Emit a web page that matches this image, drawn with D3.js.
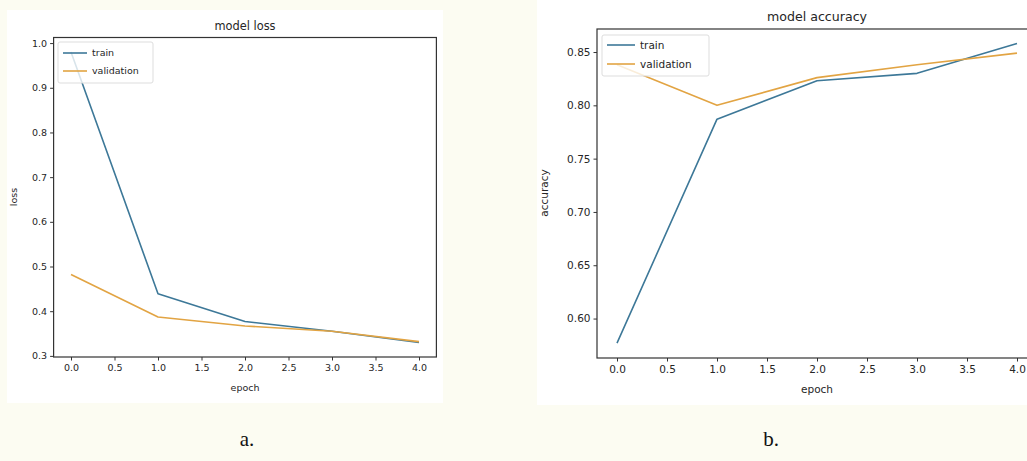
<!DOCTYPE html>
<html><head><meta charset="utf-8">
<script src="https://cdn.jsdelivr.net/npm/d3@7"></script>
<style>
html,body{margin:0;padding:0;background:#fcfcf2;}
svg{display:block;}
text{font-family:"DejaVu Sans",sans-serif;fill:#262626;}
</style></head>
<body>
<svg id="c" width="1027" height="461"></svg>
<script>
const epochs = [0, 1, 2, 3, 4];
const lossTrain = [0.980, 0.439, 0.377, 0.355, 0.330];
const lossVal = [0.482, 0.387, 0.367, 0.355, 0.332];
const accTrain = [0.577, 0.787, 0.823, 0.830, 0.858];
const accVal = [0.838, 0.800, 0.826, 0.838, 0.849];
const xTicks = [0, 0.5, 1, 1.5, 2, 2.5, 3, 3.5, 4];
const lossTicks = [0.3, 0.4, 0.5, 0.6, 0.7, 0.8, 0.9, 1.0];
const accTicks = [0.60, 0.65, 0.70, 0.75, 0.80, 0.85];
const seriesNames = ["train", "validation"];
const colors = ["#3d7898", "#e2a443"];

const svg = d3.select("#c");

function panel(cfg) {
  const g = svg.append("g");
  g.append("rect").attr("x", cfg.panel[0]).attr("y", cfg.panel[1])
    .attr("width", cfg.panel[2]).attr("height", cfg.panel[3]).attr("fill", "#ffffff");
  const x = d3.scaleLinear().domain([-0.2, 4.2]).range([cfg.left, cfg.right]);
  const y = d3.scaleLinear().domain(cfg.ydom).range([cfg.bottom, cfg.top]);
  const fs = cfg.fs;
  const line = d3.line().x((d, i) => x(epochs[i])).y(d => y(d));
  [cfg.train, cfg.val].forEach((s, k) => {
    g.append("path").datum(s).attr("d", line).attr("fill", "none")
      .attr("stroke", colors[k]).attr("stroke-width", 1.6).attr("stroke-linejoin", "round");
  });
  const xa = g.append("g").attr("transform", `translate(0,${cfg.bottom})`)
    .call(d3.axisBottom(x).tickValues(xTicks).tickFormat(d3.format(".1f")).tickSize(3.5).tickPadding(4));
  const ya = g.append("g").attr("transform", `translate(${cfg.left},0)`)
    .call(d3.axisLeft(y).tickValues(cfg.yticks).tickFormat(d3.format(cfg.yfmt)).tickSize(3.5).tickPadding(3));
  [xa, ya].forEach(a => {
    a.select(".domain").remove();
    a.selectAll("line").attr("stroke", "#333");
    a.selectAll("text").attr("font-size", fs).attr("fill", "#2a2a2a").style("font-family", "DejaVu Sans");
  });
  g.append("rect").attr("x", cfg.left).attr("y", cfg.top)
    .attr("width", cfg.right - cfg.left).attr("height", cfg.bottom - cfg.top)
    .attr("fill", "none").attr("stroke", "#333").attr("stroke-width", 1.2);
  g.append("text").attr("x", (cfg.left + cfg.right) / 2).attr("y", cfg.top - 8)
    .attr("text-anchor", "middle").attr("font-size", fs * 1.2).text(cfg.title);
  g.append("text").attr("x", cfg.xlabel[0]).attr("y", cfg.xlabel[1])
    .attr("text-anchor", "middle").attr("font-size", fs).text("epoch");
  g.append("text").attr("transform", `translate(${cfg.ylabel[0]},${cfg.ylabel[1]}) rotate(-90)`)
    .attr("text-anchor", "middle").attr("font-size", fs).text(cfg.ylab);
  const L = cfg.legend;
  g.append("rect").attr("x", L.x).attr("y", L.y).attr("width", L.w).attr("height", L.h)
    .attr("rx", 2).attr("fill", "#fff").attr("fill-opacity", 0.8).attr("stroke", "#ddd");
  seriesNames.forEach((n, k) => {
    const yy = L.y + L.row0 + k * L.dy;
    g.append("line").attr("x1", L.x + 5).attr("x2", L.x + 5 + L.len).attr("y1", yy).attr("y2", yy)
      .attr("stroke", colors[k]).attr("stroke-width", 1.6);
    g.append("text").attr("x", L.x + 10 + L.len).attr("y", yy).attr("dy", "0.35em")
      .attr("font-size", fs).text(n);
  });
}

panel({
  panel: [7, 10, 436, 393],
  left: 53.6, right: 436.4, top: 37.5, bottom: 357,
  ydom: [0.2975, 1.0125], yticks: lossTicks, yfmt: ".1f",
  train: lossTrain, val: lossVal, fs: 9.5,
  title: "model loss", ylab: "loss", xlabel: [245, 391], ylabel: [17, 197],
  legend: {x: 58, y: 42, w: 95, h: 41, row0: 11, dy: 18, len: 24}
});
panel({
  panel: [537, 0, 490, 405],
  left: 597, right: 1037, top: 29, bottom: 358,
  ydom: [0.5630, 0.8716], yticks: accTicks, yfmt: ".2f",
  train: accTrain, val: accVal, fs: 10.5,
  title: "model accuracy", ylab: "accuracy", xlabel: [817, 393], ylabel: [548, 193],
  legend: {x: 602, y: 35, w: 107, h: 41, row0: 10, dy: 19, len: 28}
});

svg.append("text").attr("x", 247).attr("y", 446).attr("text-anchor", "middle")
  .style("font-family", "Liberation Serif, serif").attr("font-size", 21).style("fill", "#111").text("a.");
svg.append("text").attr("x", 771).attr("y", 446).attr("text-anchor", "middle")
  .style("font-family", "Liberation Serif, serif").attr("font-size", 21).style("fill", "#111").text("b.");
</script>
</body></html>
